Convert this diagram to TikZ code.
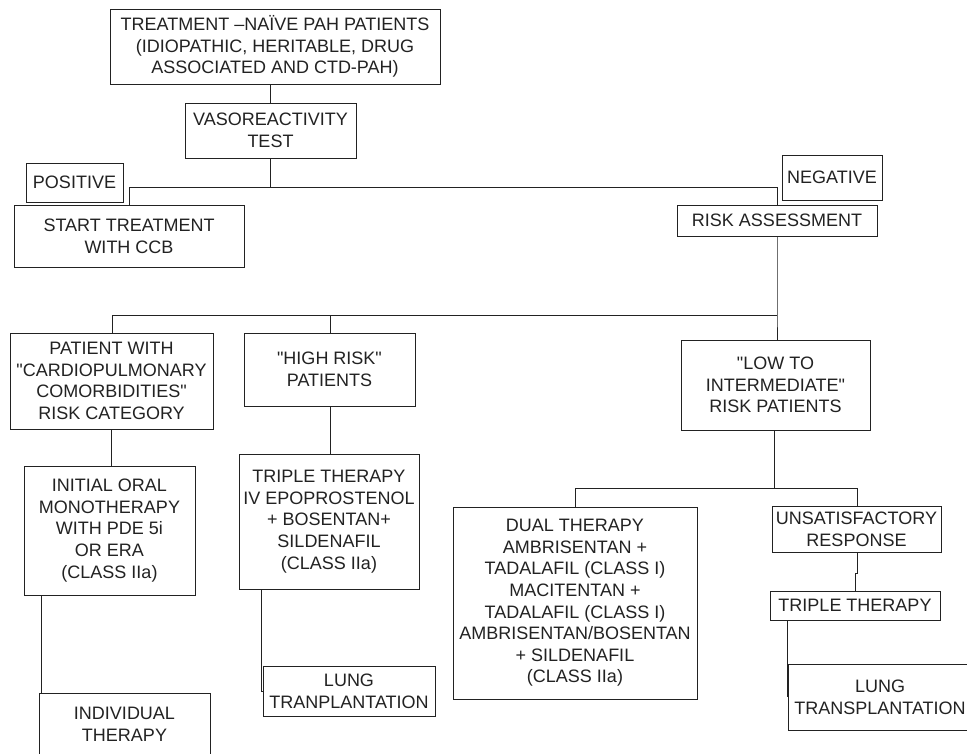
\documentclass[tikz,border=0pt]{standalone}
\usepackage{fontspec}
\setmainfont{Liberation Sans}[Ligatures=TeXOff]
\definecolor{ink}{HTML}{222222}
\tikzset{
  box/.style={draw=ink, line width=0.9pt, rectangle, inner sep=0pt, align=center, text=ink,
    font=\fontsize{18}{21.6}\selectfont},
  link/.style={draw=ink, line width=0.9pt}
}
\newcommand\mybox[6]{%
  \pgfmathsetmacro\bw{#4-#2}\pgfmathsetmacro\bh{#5-#3}%
  \node[box, minimum width=\bw pt, minimum height=\bh pt] (#1) at ({(#2+#4)/2},{(#3+#5)/2}) {#6};}
\begin{document}
\begin{tikzpicture}[x=1pt,y=-1pt]
\useasboundingbox (0,0) rectangle (967,753);
\clip (0,0) rectangle (967,753);
\fill[white] (0,0) rectangle (967,753);
\mybox{top}{110}{9}{440}{84}{TREATMENT –NAÏVE PAH PATIENTS\\(IDIOPATHIC, HERITABLE, DRUG\\ASSOCIATED AND CTD-PAH)}
\mybox{vaso}{185}{103}{356}{158}{VASOREACTIVITY\\TEST}
\mybox{pos}{26}{163}{123}{202}{POSITIVE}
\mybox{ccb}{14}{205}{244}{267}{START TREATMENT\\WITH CCB}
\mybox{neg}{782}{155}{882}{200}{NEGATIVE}
\mybox{ra}{677}{205}{877}{236}{RISK ASSESSMENT}
\mybox{cardio}{10}{333}{213}{429}{PATIENT WITH\\"CARDIOPULMONARY\\COMORBIDITIES"\\RISK CATEGORY}
\mybox{high}{244}{333}{415}{406}{"HIGH RISK"\\PATIENTS}
\mybox{low}{681}{340}{870}{430}{"LOW TO\\INTERMEDIATE"\\RISK PATIENTS}
\mybox{initial}{24}{466}{195}{595}{INITIAL ORAL\\MONOTHERAPY\\WITH PDE 5i\\OR ERA\\(CLASS IIa)}
\mybox{triple}{239}{454}{419}{589}{TRIPLE THERAPY\\IV EPOPROSTENOL\\+ BOSENTAN+\\SILDENAFIL\\(CLASS IIa)}
\mybox{lungA}{263}{666}{435}{716}{LUNG\\TRANPLANTATION}
\mybox{indiv}{39}{693}{210}{755}{INDIVIDUAL\\THERAPY}
\mybox{dual}{453}{507}{697}{699}{DUAL THERAPY\\AMBRISENTAN +\\TADALAFIL (CLASS I)\\MACITENTAN +\\TADALAFIL (CLASS I)\\AMBRISENTAN/BOSENTAN\\+ SILDENAFIL\\(CLASS IIa)}
\mybox{unsat}{772}{506}{941}{552}{UNSATISFACTORY\\RESPONSE}
\mybox{tt}{770}{591}{940}{620}{TRIPLE THERAPY}
\mybox{lungB}{788}{664}{972}{730}{LUNG\\TRANSPLANTATION}
% junction coordinates
\coordinate (j1) at (270,187);
\coordinate (j1L) at (129,187);
\coordinate (j1R) at (777,187);
\coordinate (j2) at (777,315);
\coordinate (j2L) at (112,315);
\coordinate (j2M) at (330,315);
\coordinate (j3) at (774,488);
\coordinate (j3L) at (575,488);
\coordinate (j3R) at (857,488);
\coordinate (k1) at (857,573);
\coordinate (k2) at (855,573);
\coordinate (m1) at (261,691);
\coordinate (m2) at (787,697);
% connectors
\draw[link] (top.south -| j1) -- (vaso.north -| j1);
\draw[link] (vaso.south -| j1) -- (j1);
\draw[link] (j1L) -- (j1R);
\draw[link] (j1L) -- (ccb.north -| j1L);
\draw[link] (j1R) -- (ra.north -| j1R);
\draw[link] (ra.south -| j2) -- (j2) -- (low.north -| j2);
\draw[link] (j2L) -- (j2);
\draw[link] (j2L) -- (cardio.north -| j2L);
\draw[link] (j2M) -- (high.north -| j2M);
\draw[link] (cardio.south -| 111,0) -- (initial.north -| 111,0);
\draw[link] (high.south -| j2M) -- (triple.north -| j2M);
\draw[link] (initial.south -| 41,0) -- (indiv.north -| 41,0);
\draw[link] (triple.south -| m1) -- (m1) -- (lungA.west |- m1);
\draw[link] (low.south -| j3) -- (j3);
\draw[link] (j3L) -- (j3R);
\draw[link] (j3L) -- (dual.north -| j3L);
\draw[link] (j3R) -- (unsat.north -| j3R);
\draw[link] (unsat.south -| k1) -- (k1) -- (k2) -- (tt.north -| k2);
\draw[link] (tt.south -| m2) -- (m2);
\end{tikzpicture}
\end{document}
